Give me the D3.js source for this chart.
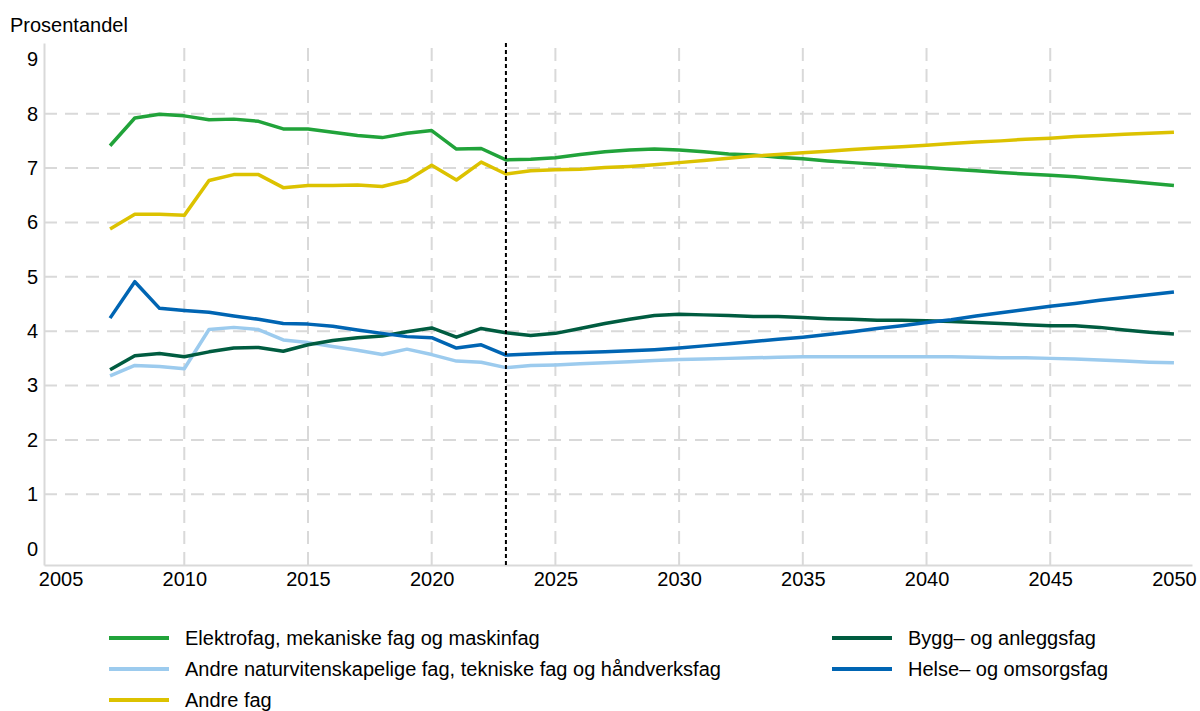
<!DOCTYPE html>
<html>
<head>
<meta charset="utf-8">
<script src="https://cdn.jsdelivr.net/npm/d3@7"></script>
<style>
  body { margin: 0; background: #fff; }
  text { font-family: "Liberation Sans", Arial, sans-serif; fill: #000; }
</style>
</head>
<body>
<div id="chart"></div>
<script>
// år 2007-2050
const years = d3.range(2007, 2051);

const elektro = [7.41, 7.92, 7.99, 7.96, 7.89, 7.90, 7.86, 7.72, 7.72, 7.66, 7.60, 7.56, 7.64, 7.69, 7.35, 7.36,
  7.15, 7.16, 7.19, 7.25, 7.30, 7.33, 7.35, 7.33, 7.30, 7.26, 7.24, 7.20, 7.17, 7.13, 7.10, 7.07, 7.04, 7.01,
  6.98, 6.95, 6.92, 6.89, 6.87, 6.84, 6.80, 6.76, 6.72, 6.68];
const naturvit = [3.18, 3.37, 3.35, 3.31, 4.03, 4.07, 4.03, 3.84, 3.79, 3.72, 3.65, 3.57, 3.67, 3.57, 3.45, 3.43,
  3.33, 3.37, 3.38, 3.40, 3.42, 3.44, 3.46, 3.48, 3.49, 3.50, 3.51, 3.52, 3.53, 3.53, 3.53, 3.53, 3.53, 3.53,
  3.53, 3.52, 3.51, 3.51, 3.50, 3.49, 3.47, 3.45, 3.43, 3.42];
const andre = [5.88, 6.15, 6.15, 6.13, 6.77, 6.88, 6.88, 6.64, 6.68, 6.68, 6.69, 6.66, 6.77, 7.05, 6.78, 7.11,
  6.89, 6.95, 6.97, 6.98, 7.01, 7.03, 7.06, 7.10, 7.14, 7.18, 7.22, 7.25, 7.28, 7.31, 7.34, 7.37, 7.39, 7.42,
  7.45, 7.48, 7.50, 7.53, 7.55, 7.58, 7.60, 7.62, 7.64, 7.66];
const bygg = [3.29, 3.55, 3.59, 3.53, 3.62, 3.69, 3.70, 3.63, 3.75, 3.83, 3.88, 3.91, 3.99, 4.06, 3.89, 4.05,
  3.97, 3.92, 3.96, 4.05, 4.14, 4.22, 4.29, 4.31, 4.30, 4.29, 4.27, 4.27, 4.25, 4.23, 4.22, 4.20, 4.20, 4.19,
  4.18, 4.16, 4.14, 4.12, 4.10, 4.10, 4.07, 4.02, 3.98, 3.95];
const helse = [4.24, 4.91, 4.42, 4.38, 4.35, 4.28, 4.22, 4.14, 4.13, 4.09, 4.02, 3.96, 3.90, 3.88, 3.69, 3.75,
  3.56, 3.58, 3.60, 3.61, 3.62, 3.64, 3.66, 3.69, 3.73, 3.77, 3.81, 3.85, 3.89, 3.94, 3.99, 4.05, 4.10, 4.16,
  4.21, 4.28, 4.34, 4.40, 4.46, 4.51, 4.57, 4.62, 4.67, 4.72];

const seriesNames = ["Elektrofag, mekaniske fag og maskinfag", "Andre naturvitenskapelige fag, tekniske fag og håndverksfag",
  "Andre fag", "Bygg\u2013 og anleggsfag", "Helse\u2013 og omsorgsfag"];
const seriesValues = [elektro, naturvit, andre, bygg, helse];
const seriesColors = ["#21a33a", "#9ccbee", "#dcc200", "#005c40", "#0065b3"];

const xTicks = d3.range(2005, 2051, 5);
const yTicks = d3.range(0, 10);
const prognoseStart = 2023;

const width = 1200, height = 711;
const svg = d3.select("#chart").append("svg")
  .attr("width", width).attr("height", height);

const x = d3.scaleLinear().domain([2004.33, 2050.73]).range([44, 1192]);
const y = d3.scaleLinear().domain([-0.3, 9.3]).range([565, 43]);

// rutenett
const grid = svg.append("g");
grid.selectAll(".hgrid").data(yTicks.filter(d => d >= 1 && d <= 8)).enter().append("line")
  .attr("x1", x.range()[0]).attr("x2", x.range()[1])
  .attr("y1", d => y(d)).attr("y2", d => y(d))
  .attr("stroke", "#d9d9d9").attr("stroke-width", 2).attr("stroke-dasharray", "13,8");
grid.selectAll(".vgrid").data(xTicks.filter(d => d > 2005 && d < 2050)).enter().append("line")
  .attr("x1", d => x(d)).attr("x2", d => x(d))
  .attr("y1", y.range()[0]).attr("y2", y.range()[1])
  .attr("stroke", "#d9d9d9").attr("stroke-width", 2).attr("stroke-dasharray", "13,8");

// akser
const yAxis = svg.append("g").attr("transform", `translate(${x.range()[0]},0)`)
  .call(d3.axisLeft(y).tickValues(yTicks).tickSize(0).tickPadding(6).tickFormat(d3.format("d")));
const xAxis = svg.append("g").attr("transform", `translate(0,${y.range()[0]})`)
  .call(d3.axisBottom(x).tickValues(xTicks).tickSize(0).tickPadding(7).tickFormat(d3.format("d")));
[xAxis, yAxis].forEach(a => {
  a.select(".domain").attr("stroke", "#d9d9d9").attr("stroke-width", 2);
  a.selectAll("text").style("font-size", "20px").attr("fill", "#000")
    .style("font-family", '"Liberation Sans", Arial, sans-serif');
});

svg.append("text").attr("x", 10).attr("y", 32).style("font-size", "20px").text("Prosentandel");

// linjer
const line = d3.line().x((d, i) => x(years[i])).y(d => y(d));
svg.append("g").selectAll("path").data(seriesValues).enter().append("path")
  .attr("d", line)
  .attr("fill", "none")
  .attr("stroke", (d, i) => seriesColors[i])
  .attr("stroke-width", 3.5)
  .attr("stroke-linejoin", "round");

// prognoselinje
svg.append("line")
  .attr("x1", x(prognoseStart)).attr("x2", x(prognoseStart))
  .attr("y1", y.range()[1]).attr("y2", y.range()[0])
  .attr("stroke", "#000").attr("stroke-width", 2).attr("stroke-dasharray", "4,3");

// tegnforklaring
const legendPos = [[109, 638], [109, 669], [109, 700], [832, 638], [832, 669]];
const legend = svg.append("g").selectAll("g").data(seriesNames).enter().append("g")
  .attr("transform", (d, i) => `translate(${legendPos[i][0]},${legendPos[i][1]})`);
legend.append("line").attr("x1", 0).attr("x2", 60)
  .attr("stroke", (d, i) => seriesColors[i]).attr("stroke-width", 4);
legend.append("text").attr("x", 76).attr("dy", "0.35em")
  .style("font-size", "20px").text(d => d);
</script>
</body>
</html>
